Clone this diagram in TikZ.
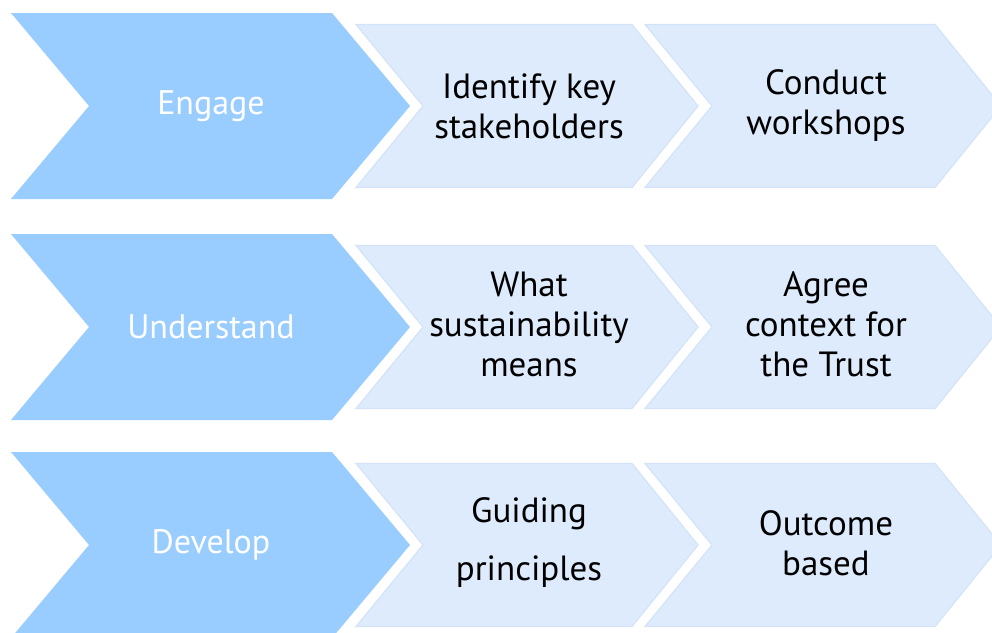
\documentclass[tikz,border=0pt]{standalone}
\usepackage{fontspec}
\setmainfont{PT Sans}
\definecolor{bigblue}{HTML}{99CCFF}
\definecolor{lightblue}{HTML}{DEEBFC}
\definecolor{lightedge}{HTML}{D3E4F8}
% style, left, notch, corner, tip, centre y, half height
\newcommand{\chevpath}[7]{%
  \path[#1] (#2,#6-#7) -- (#4,#6-#7) -- (#5,#6) -- (#4,#6+#7) -- (#2,#6+#7) -- (#3,#6) -- cycle;}
\begin{document}
\begin{tikzpicture}[x=1pt,y=-1pt,
  bigchev/.style={fill=bigblue},
  smallchev/.style={fill=lightblue, draw=lightedge, line width=1.2pt},
  biglabel/.style={text=white, font=\fontsize{34}{40}\selectfont, align=center},
  smalllabel/.style={text=black, font=\fontsize{35}{40}\selectfont, align=center}]
\useasboundingbox (0,0) rectangle (992,632);
\clip (0,0) rectangle (992,632);
\fill[white] (0,0) rectangle (992,632);
\foreach \cy in {106,327,545}{
  \chevpath{bigchev}{11}{89}{332}{410}{\cy}{93}
  \chevpath{smallchev}{356}{423}{632}{698}{\cy}{81.5}
  \chevpath{smallchev}{645}{712}{935}{1001}{\cy}{81.5}
}
\node[biglabel] (engage) at (211,106) {Engage};
\node[smalllabel] (identify) at (529,106) {Identify key\\stakeholders};
\node[smalllabel] (conduct) at (826,106) {Conduct\\workshops};
\node[biglabel] (understand) at (211,327) {Understand};
\node[smalllabel] (what) at (529,324) {What\\sustainability\\means};
\node[smalllabel] (agree) at (826,324) {Agree\\context for\\the Trust};
\node[biglabel] (develop) at (211,545) {Develop};
\node[smalllabel] (guiding) at (529,543) {Guiding\\[18pt]principles};
\node[smalllabel] (outcome) at (826,543) {Outcome\\based};
\end{tikzpicture}
\end{document}
